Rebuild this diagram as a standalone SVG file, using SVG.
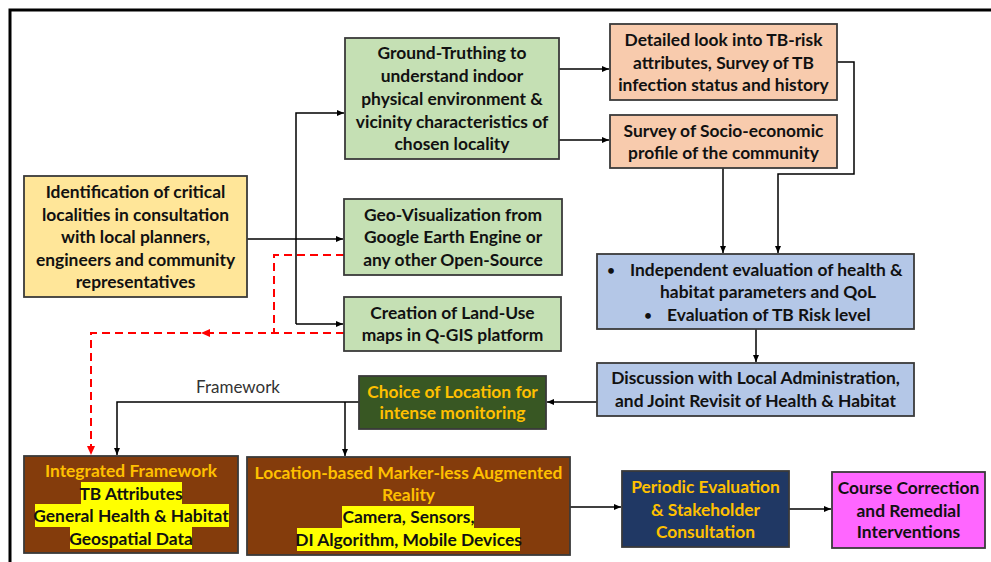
<svg xmlns="http://www.w3.org/2000/svg" width="991" height="562" viewBox="0 0 991 562">
<style>
text{font-family:Lato,"Open Sans","Liberation Sans",sans-serif;font-weight:bold;font-size:17.4px;text-anchor:middle;fill:#111}
.box{stroke:#3a3a3a;stroke-width:1.8}
.g{fill:#FFC000}
.hl{fill:#FFFF00}
.c{fill:none;stroke:#000;stroke-width:1.5;marker-end:url(#ah)}
.r{fill:none;stroke:#FF0000;stroke-width:2;stroke-dasharray:8,5}
.lbl{font-weight:normal;fill:#333;font-size:17px}
.lt{text-anchor:start}
.bul{font-size:13px}
</style>
<defs>
<marker id="ah" markerWidth="8" markerHeight="8" refX="7" refY="4" orient="auto" markerUnits="userSpaceOnUse"><path d="M0,1 L7,4 L0,7 z" fill="#000"/></marker>
</defs>
<rect width="991" height="562" fill="#fff"/>
<path d="M10,562 V10 H991" fill="none" stroke="#000" stroke-width="3"/>

<g id="connectors">
<path class="c" d="M247,239 H343"/>
<path class="c" d="M296,324 V113 H344"/>
<path class="c" d="M296,324 H343"/>
<path class="c" d="M559,69 H609"/>
<path class="c" d="M559,140 H609"/>
<path class="c" d="M837,62 H854 V174 H778 V253"/>
<path class="c" d="M723,168 V253"/>
<path class="c" d="M756,329 V362"/>
<path class="c" d="M597,402 H547"/>
<path class="c" d="M359,402 H117 V455"/>
<path class="c" d="M345,402 V456"/>
<path class="c" d="M570,507 H621"/>
<path class="c" d="M789,509 H831"/>
<path class="r" d="M344,255 H274 V333"/>
<path class="r" d="M344,333 H91 V446"/>
<path d="M91,455 L87,446 L95,446 z" fill="#FF0000"/>
<path d="M201,333 L210,329 L210,337 z" fill="#FF0000"/>
<text class="lbl" x="238" y="393">Framework</text>
</g>

<g id="identification">
<rect class="box" x="24" y="176" width="223" height="121" fill="#FFE699"/>
<text x="135.5" y="198">Identification of critical</text>
<text x="135.5" y="220.5">localities in consultation</text>
<text x="135.5" y="243">with local planners,</text>
<text x="135.5" y="265.5">engineers and community</text>
<text x="135.5" y="288">representatives</text>
</g>

<g id="ground-truthing">
<rect class="box" x="345" y="38" width="214" height="121" fill="#C5E0B4"/>
<text x="452" y="59">Ground-Truthing to</text>
<text x="452" y="82">understand indoor</text>
<text x="452" y="105">physical environment &amp;</text>
<text x="452" y="127.5">vicinity characteristics of</text>
<text x="452" y="150">chosen locality</text>
</g>

<g id="detailed-look">
<rect class="box" x="610" y="24" width="227" height="76" fill="#F8CBAD"/>
<text x="723.5" y="46">Detailed look into TB-risk</text>
<text x="723.5" y="69">attributes, Survey of TB</text>
<text x="723.5" y="91">infection status and history</text>
</g>

<g id="socio-economic">
<rect class="box" x="610" y="115" width="227" height="53" fill="#F8CBAD"/>
<text x="723.5" y="137">Survey of Socio-economic</text>
<text x="723.5" y="159">profile of the community</text>
</g>

<g id="geo-visualization">
<rect class="box" x="344" y="199" width="218" height="76" fill="#C5E0B4"/>
<text x="453" y="221">Geo-Visualization from</text>
<text x="453" y="243">Google Earth Engine or</text>
<text x="453" y="266">any other Open-Source</text>
</g>

<g id="land-use">
<rect class="box" x="344" y="297" width="217" height="54" fill="#C5E0B4"/>
<text x="452.5" y="319">Creation of Land-Use</text>
<text x="452.5" y="341">maps in Q-GIS platform</text>
</g>

<g id="evaluation">
<rect class="box" x="597" y="254" width="317" height="75" fill="#B4C7E7"/>
<text class="bul" x="611" y="275">•</text>
<text class="lt" x="630" y="276">Independent evaluation of health &amp;</text>
<text x="768" y="298">habitat parameters and QoL</text>
<text class="bul" x="648" y="320">•</text>
<text class="lt" x="667" y="321">Evaluation of TB Risk level</text>
</g>

<g id="discussion">
<rect class="box" x="597" y="363" width="317" height="53" fill="#B4C7E7"/>
<text x="755.5" y="384">Discussion with Local Administration,</text>
<text x="755.5" y="407">and Joint Revisit of Health &amp; Habitat</text>
</g>

<g id="choice">
<rect class="box" x="359" y="376" width="187" height="53" fill="#385723"/>
<text class="g" x="452.5" y="398">Choice of Location for</text>
<text class="g" x="452.5" y="419">intense monitoring</text>
</g>

<g id="integrated-framework">
<rect class="box" x="24" y="456" width="214" height="97" fill="#843C0C"/>
<rect class="hl" x="81" y="482" width="101" height="22"/>
<rect class="hl" x="35" y="504" width="194" height="23"/>
<rect class="hl" x="70" y="527" width="122" height="22"/>
<text class="g" x="131" y="477">Integrated Framework</text>
<text x="131" y="500">TB Attributes</text>
<text x="131" y="522">General Health &amp; Habitat</text>
<text x="131" y="545">Geospatial Data</text>
</g>

<g id="augmented-reality">
<rect class="box" x="247" y="457" width="323" height="98" fill="#843C0C"/>
<rect class="hl" x="342" y="506" width="132" height="22"/>
<rect class="hl" x="297" y="528" width="223" height="23"/>
<text class="g" x="408.5" y="479">Location-based Marker-less Augmented</text>
<text class="g" x="408.5" y="501">Reality</text>
<text x="408.5" y="523">Camera, Sensors,</text>
<text x="408.5" y="546">DI Algorithm, Mobile Devices</text>
</g>

<g id="periodic-evaluation">
<rect class="box" x="622" y="471" width="167" height="76" fill="#203864"/>
<text class="g" x="705.5" y="493">Periodic Evaluation</text>
<text class="g" x="705.5" y="516">&amp; Stakeholder</text>
<text class="g" x="705.5" y="538">Consultation</text>
</g>

<g id="course-correction">
<rect class="box" x="832" y="472" width="153" height="76" fill="#FF66FF"/>
<text x="908.5" y="494">Course Correction</text>
<text x="908.5" y="517">and Remedial</text>
<text x="908.5" y="538">Interventions</text>
</g>
</svg>
